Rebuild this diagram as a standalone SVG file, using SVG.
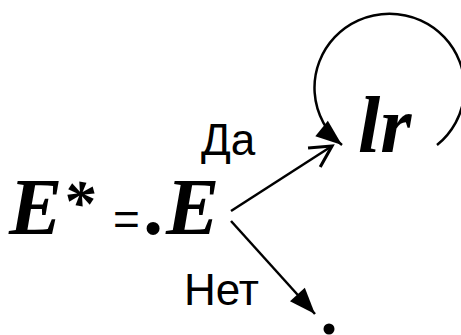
<svg xmlns="http://www.w3.org/2000/svg" width="461" height="335" viewBox="0 0 461 335">
<style>
.m{font-family:"Liberation Serif","Times New Roman",serif;font-weight:bold;font-style:italic;font-size:80px;fill:#000}
.s{font-family:"Liberation Sans",Arial,sans-serif;font-size:44px;fill:#000}
.e{font-family:"Liberation Sans",Arial,sans-serif;font-size:46px;fill:#000}
.ln{fill:none;stroke:#000;stroke-width:2.5}
</style>
<defs>
<marker id="open" markerUnits="userSpaceOnUse" markerWidth="30" markerHeight="30" viewBox="-20 -12 24 24" refX="0" refY="0" orient="auto" overflow="visible">
<path d="M-17,-9 L0,0 L-17,9" fill="none" stroke="#000" stroke-width="2.5"/>
</marker>
<marker id="fill" markerUnits="userSpaceOnUse" markerWidth="30" markerHeight="30" viewBox="-22 -12 24 24" refX="0" refY="0" orient="auto" overflow="visible">
<path d="M-21,-8 L0,0 L-21,8 Z" fill="#000"/>
</marker>
</defs>
<g id="node-estar"><text class="m" x="9" y="234">E<tspan font-size="64" dy="-10">*</tspan></text></g>
<g id="node-eq"><text class="e" x="113" y="235">=</text></g>
<g id="node-dotE"><text class="m" x="146" y="234">.E</text></g>
<g id="node-lr"><text class="m" x="358" y="152" font-size="76">lr</text></g>
<g id="node-dot"><circle cx="329" cy="329" r="5.5" fill="#000"/></g>
<g id="connectors">
<path class="ln" d="M231,211 L332,146" marker-end="url(#open)"/>
<path class="ln" d="M231,221 L315,314" marker-end="url(#fill)"/>
<path class="ln" stroke-width="3" d="M437,145 A75,74 0 1 0 342,145" marker-end="url(#fill)"/>
</g>
<g id="labels">
<text class="s" x="201" y="155">Да</text>
<text class="s" x="184" y="305">Нет</text>
</g>
</svg>
